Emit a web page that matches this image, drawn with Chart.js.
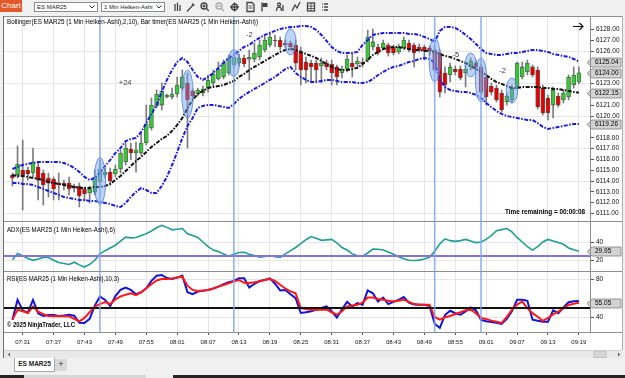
<!DOCTYPE html>
<html>
<head>
<meta charset="utf-8">
<title>ES MAR25 1 Min Heiken-Ashi</title>
<script src="https://cdn.jsdelivr.net/npm/chart.js@4.4.1/dist/chart.umd.min.js"></script>
<style>
  html, body { margin: 0; padding: 0; }
  body { position: relative; width: 625px; height: 378px; overflow: hidden; background: #f0f0f0; font-family: "Liberation Sans", Arial, sans-serif; }
  .a { position: absolute; }
  canvas { position: absolute; display: block; }
  #chartBtn { left: 0; top: 0; width: 22px; height: 12px; background: #e5582a; color: #fff; font-size: 8px; line-height: 12px; text-align: center; }
  .dd { top: 2px; height: 10px; box-sizing: border-box; border: 1px solid #8c8c8c; background: #fff; font-size: 6px; line-height: 8px; padding-left: 2px; color: #222; white-space: nowrap; }
  .dd svg { position: absolute; right: 2px; top: 2px; }
  .ln { background: #8e8e8e; }
</style>
</head>
<body>

<!-- toolbar -->
<div id="chartBtn" class="a">Chart</div>
<div class="a dd" style="left:34px;width:64px">ES MAR25<svg width="6" height="4"><polyline points="0.5,0.5 3,3 5.5,0.5" fill="none" stroke="#333" stroke-width="1"/></svg></div>
<div class="a dd" style="left:101px;width:64px">1 Min Heiken-Ashi<svg width="6" height="4"><polyline points="0.5,0.5 3,3 5.5,0.5" fill="none" stroke="#333" stroke-width="1"/></svg></div>
<svg class="a" style="left:0;top:0" width="340" height="15">
  <g stroke="#444" stroke-width="1.3" fill="none">
    <path d="M175 4v7M177.5 2.5v8.5M180 5v6"/>
    <path d="M187 11.5L193.5 4.5M192 3.5l2.5 2"/>
    <circle cx="204" cy="6" r="3"/><path d="M206.3 8.3l2.5 2.7M202.5 6h3M204 4.5v3"/>
    <circle cx="219" cy="6" r="3" stroke="#aaa"/><path d="M221.3 8.3l2.5 2.7M217.5 6h3" stroke="#aaa"/>
    <circle cx="234.5" cy="7" r="3"/><path d="M230 7h9M234.5 2.5v9"/>
    <path d="M247 2.5h5l2 2v7h-7z"/><path d="M248.5 6h4M248.5 8h4" stroke-width="0.8"/>
    <path d="M262 2.5v9"/><rect x="262.5" y="3" width="5" height="4" fill="#444" stroke="none"/>
    <circle cx="279" cy="4.5" r="1.5"/><path d="M276.5 11c0-3 1-4 2.5-4s2.5 1 2.5 4M283 5v6"/>
    <path d="M292 11l3-6 2 3 3-6"/>
    <rect x="307.5" y="3" width="7" height="8"/><path d="M307.5 6h7M307.5 8.5h7M311 3v8" stroke-width="0.8"/>
    <path d="M324 4h4M324 7h4M324 10h4M322 4h0.8M322 7h0.8M322 10h0.8"/>
  </g>
</svg>

<!-- chart frame -->
<div class="a" style="left:4px;top:17px;width:618px;height:333px;background:#fff"></div>
<canvas id="cPrice" width="618" height="204" style="left:4px;top:17px;width:618px;height:204px"></canvas>
<canvas id="cAdx" width="618" height="49" style="left:4px;top:222px;width:618px;height:49px"></canvas>
<canvas id="cRsi" width="618" height="78" style="left:4px;top:272px;width:618px;height:78px"></canvas>
<div class="a ln" style="left:3px;top:16px;width:620px;height:1px"></div>
<div class="a ln" style="left:3px;top:16px;width:1px;height:342px;background:#6e6e6e"></div>
<div class="a ln" style="left:622px;top:16px;width:1px;height:334px;background:#b0b0b0"></div>
<div class="a ln" style="left:4px;top:221px;width:618px;height:1px"></div>
<div class="a ln" style="left:4px;top:271px;width:618px;height:1px"></div>
<div class="a ln" style="left:4px;top:332px;width:618px;height:1px"></div>
<div class="a ln" style="left:590px;top:17px;width:1px;height:315px"></div>

<!-- scrollbar -->
<div class="a" style="left:4px;top:350px;width:618px;height:7px;background:#e8e8e8;border-top:1px solid #d0d0d0"></div>
<svg class="a" style="left:4px;top:351px" width="618" height="7">
  <path d="M4 3.5l2-2v4z" fill="#555"/>
  <rect x="590" y="0.5" width="12" height="6" fill="#d6d6d6" stroke="#c4c4c4"/>
  <path d="M614 1.5l2 2-2 2z" fill="#555"/>
</svg>

<!-- tabs -->
<div class="a" style="left:14px;top:358px;width:39px;height:13px;background:#fff;border:1px solid #a8a8a8;border-top:none;font-size:6.5px;font-weight:bold;line-height:12px;text-align:center;color:#222">ES MAR25</div>
<div class="a" style="left:55px;top:359px;width:12px;height:12px;background:#d9d9d9;font-size:9px;line-height:11px;text-align:center;color:#333">+</div>

<!-- taskbar peek -->
<div class="a" style="left:0;top:375px;width:625px;height:3px;background:#2b2323"></div>
<div class="a" style="left:24px;top:375px;width:122px;height:3px;background:#d6d6d6"></div>
<div class="a" style="left:146px;top:375px;width:27px;height:3px;background:#efefef"></div>

<script>
// ---- data -------------------------------------------------------------
const firstBarTime = '07:29';
const tickLabels = ['07:31', '07:37', '07:43', '07:49', '07:55', '08:01', '08:07', '08:13', '08:19', '08:25',
  '08:31', '08:37', '08:43', '08:49', '08:55', '09:01', '09:07', '09:13', '09:19'];
const priceTicks = [6111, 6112, 6113, 6114, 6115, 6116, 6117, 6118, 6119, 6120, 6121, 6122, 6123, 6124, 6125, 6126, 6127, 6128];
const adxTicks = [20, 40];
const rsiTicks = [40, 80];

const haOpen = [
  6114.56, 6114.56, 6115.02, 6115.02, 6114.74, 6115.30, 6114.74, 6114.28, 6114.19, 6113.81,
  6113.81, 6113.81, 6113.54, 6113.54, 6113.26, 6112.89, 6112.98, 6113.91, 6114.56, 6114.83,
  6114.65, 6115.11, 6115.76, 6116.96, 6116.59, 6116.59, 6117.51, 6118.90, 6120.93, 6121.02,
  6121.76, 6121.76, 6122.04, 6122.59, 6123.06, 6122.32, 6122.04, 6122.13, 6122.59, 6123.06,
  6123.43, 6123.61, 6123.98, 6124.72, 6124.90, 6125.37, 6125.27, 6125.27, 6125.46, 6126.11,
  6126.57, 6127.03, 6127.03, 6126.75, 6126.75, 6126.57, 6125.92, 6125.00, 6124.90, 6124.90,
  6124.63, 6124.90, 6124.81, 6124.54, 6123.98, 6124.35, 6124.90, 6124.81, 6125.00, 6125.18,
  6126.38, 6126.38, 6126.29, 6126.57, 6126.38, 6125.92, 6126.29, 6126.75, 6126.57, 6126.38,
  6126.38, 6126.29, 6126.11, 6125.83, 6123.98, 6123.80, 6124.35, 6124.35, 6123.98, 6124.54,
  6124.90, 6124.54, 6123.61, 6122.78, 6122.59, 6122.13, 6121.30, 6121.49, 6122.69, 6123.61,
  6124.07, 6124.54, 6124.26, 6122.59, 6121.67, 6121.02, 6121.86, 6121.49, 6121.76, 6122.87, 6123.15];
const haHigh = [
  6114.74, 6117.24, 6117.79, 6115.30, 6117.05, 6115.66, 6115.02, 6114.74, 6114.37, 6114.74,
  6114.09, 6114.37, 6113.72, 6113.81, 6113.45, 6113.54, 6115.02, 6115.94, 6115.20, 6115.20,
  6115.48, 6116.87, 6117.51, 6117.51, 6117.60, 6118.44, 6121.02, 6121.67, 6122.41, 6123.06,
  6122.04, 6122.59, 6123.61, 6124.26, 6123.98, 6122.50, 6122.59, 6122.78, 6123.80, 6124.26,
  6125.00, 6125.18, 6125.64, 6125.92, 6125.74, 6125.64, 6126.11, 6126.75, 6127.03, 6127.40,
  6127.68, 6127.49, 6127.31, 6127.03, 6126.94, 6127.03, 6126.38, 6125.46, 6125.18, 6125.18,
  6125.37, 6125.18, 6125.18, 6124.72, 6124.63, 6125.64, 6125.83, 6125.46, 6125.37, 6127.95,
  6128.05, 6126.66, 6127.03, 6126.75, 6126.57, 6126.66, 6127.31, 6127.03, 6126.75, 6126.66,
  6126.57, 6126.48, 6126.38, 6126.11, 6124.54, 6124.90, 6124.63, 6124.63, 6124.63, 6125.37,
  6125.18, 6124.81, 6123.89, 6123.06, 6122.87, 6122.41, 6122.13, 6122.87, 6125.00, 6125.00,
  6125.18, 6124.72, 6124.54, 6122.87, 6121.95, 6122.69, 6122.13, 6122.41, 6123.80, 6124.54, 6124.54];
const haLow = [
  6113.54, 6114.28, 6111.32, 6114.09, 6114.37, 6112.25, 6111.78, 6112.52, 6112.25, 6112.25,
  6113.17, 6112.71, 6112.98, 6111.60, 6112.15, 6111.97, 6112.71, 6113.63, 6114.28, 6113.63,
  6114.37, 6114.74, 6115.48, 6115.94, 6114.83, 6116.40, 6117.33, 6118.71, 6120.75, 6120.56,
  6121.67, 6121.58, 6121.76, 6122.41, 6117.05, 6121.58, 6121.86, 6121.86, 6122.22, 6122.78,
  6123.33, 6123.43, 6123.80, 6124.44, 6124.63, 6124.54, 6123.33, 6125.00, 6125.18, 6125.92,
  6126.38, 6126.38, 6126.11, 6126.29, 6126.11, 6124.26, 6122.87, 6123.06, 6123.15, 6123.15,
  6123.06, 6124.26, 6122.87, 6122.87, 6123.52, 6124.07, 6123.61, 6124.54, 6124.54, 6125.00,
  6126.11, 6125.64, 6126.11, 6125.55, 6125.64, 6125.74, 6126.11, 6125.92, 6124.54, 6125.92,
  6125.18, 6125.64, 6124.07, 6121.76, 6122.13, 6123.15, 6123.80, 6123.33, 6122.69, 6124.26,
  6124.26, 6121.95, 6121.02, 6121.95, 6121.30, 6120.38, 6121.02, 6121.21, 6122.41, 6123.43,
  6123.80, 6123.61, 6120.65, 6120.10, 6119.64, 6119.83, 6120.84, 6121.21, 6121.49, 6122.59, 6122.97];
const haClose = [
  6114.28, 6115.57, 6114.56, 6114.65, 6115.76, 6114.09, 6113.63, 6113.81, 6113.26, 6113.63,
  6113.63, 6113.26, 6113.35, 6112.62, 6112.80, 6113.26, 6114.37, 6115.11, 6114.83, 6114.00,
  6115.11, 6116.59, 6117.05, 6116.59, 6116.87, 6117.51, 6119.27, 6121.02, 6122.04, 6122.32,
  6121.95, 6122.04, 6122.87, 6123.61, 6121.49, 6121.86, 6122.41, 6122.50, 6123.33, 6123.89,
  6124.35, 6124.90, 6125.37, 6125.46, 6125.37, 6124.81, 6125.46, 6125.83, 6126.57, 6127.03,
  6127.31, 6126.94, 6126.38, 6126.57, 6126.38, 6124.90, 6124.26, 6124.26, 6124.54, 6124.26,
  6124.90, 6124.54, 6123.98, 6123.61, 6124.35, 6125.27, 6124.54, 6125.09, 6124.81, 6127.31,
  6126.85, 6125.83, 6126.75, 6125.83, 6125.83, 6126.38, 6127.03, 6126.11, 6125.83, 6126.11,
  6126.02, 6126.02, 6124.26, 6122.22, 6122.87, 6124.54, 6124.07, 6123.52, 6124.35, 6125.09,
  6124.54, 6122.22, 6121.76, 6122.22, 6121.49, 6120.56, 6121.86, 6122.59, 6124.90, 6124.54,
  6124.90, 6123.80, 6120.84, 6120.29, 6120.29, 6122.41, 6121.02, 6122.13, 6123.61, 6123.80, 6124.00];

const bbUpper = [
  6115.11, 6115.30, 6115.48, 6115.58, 6115.67, 6115.76, 6115.76, 6115.76, 6115.76, 6115.76,
  6115.67, 6115.48, 6115.21, 6114.84, 6114.38, 6114.10, 6114.28, 6114.74, 6115.39, 6115.95,
  6116.59, 6117.05, 6117.70, 6117.89, 6117.98, 6118.53, 6119.36, 6120.20, 6121.03, 6122.23,
  6123.34, 6124.26, 6125.00, 6125.37, 6125.00, 6124.26, 6123.62, 6123.34, 6123.62, 6123.98,
  6124.45, 6124.91, 6125.37, 6125.65, 6126.02, 6126.39, 6126.57, 6126.94, 6127.22, 6127.50,
  6127.68, 6127.87, 6128.05, 6128.14, 6128.24, 6128.24, 6128.33, 6128.33, 6128.24, 6127.96,
  6127.50, 6126.94, 6126.39, 6126.02, 6125.83, 6125.83, 6125.83, 6125.93, 6126.57, 6127.03,
  6127.50, 6127.59, 6127.68, 6127.68, 6127.68, 6127.68, 6127.68, 6127.59, 6127.59, 6127.50,
  6127.31, 6127.13, 6126.85, 6127.87, 6128.24, 6128.24, 6128.14, 6127.87, 6127.50, 6127.13,
  6126.66, 6126.20, 6125.83, 6125.74, 6125.65, 6125.65, 6125.74, 6125.83, 6125.83, 6125.93,
  6126.02, 6126.11, 6126.11, 6126.02, 6125.93, 6125.74, 6125.65, 6125.56, 6125.46, 6125.28, 6125.04];
const bbMiddle = [
  6114.56, 6114.47, 6114.47, 6114.38, 6114.28, 6114.19, 6114.10, 6113.91, 6113.82, 6113.73,
  6113.64, 6113.54, 6113.45, 6113.36, 6113.36, 6113.36, 6113.45, 6113.45, 6113.54, 6113.73,
  6114.10, 6114.47, 6114.93, 6115.39, 6115.85, 6116.22, 6116.69, 6117.15, 6117.52, 6117.89,
  6118.16, 6118.63, 6119.18, 6119.83, 6120.75, 6121.49, 6122.04, 6122.32, 6122.60, 6122.69,
  6122.78, 6122.88, 6123.06, 6123.25, 6123.62, 6123.89, 6124.26, 6124.54, 6124.82, 6125.09,
  6125.37, 6125.65, 6125.93, 6126.11, 6126.20, 6126.11, 6125.93, 6125.74, 6125.56, 6125.37,
  6125.09, 6124.82, 6124.54, 6124.35, 6124.26, 6124.26, 6124.35, 6124.45, 6124.82, 6125.19,
  6125.65, 6125.93, 6126.20, 6126.29, 6126.39, 6126.39, 6126.29, 6126.20, 6126.11, 6126.11,
  6126.02, 6126.02, 6125.93, 6125.74, 6125.56, 6125.46, 6125.28, 6125.09, 6124.91, 6124.63,
  6124.35, 6124.08, 6123.80, 6123.43, 6123.15, 6122.97, 6122.78, 6122.60, 6122.60, 6122.69,
  6122.69, 6122.69, 6122.69, 6122.60, 6122.60, 6122.51, 6122.51, 6122.41, 6122.32, 6122.23, 6122.15];
const bbLower = [
  6113.82, 6113.82, 6113.73, 6113.73, 6113.64, 6113.45, 6113.27, 6113.08, 6112.90, 6112.71,
  6112.53, 6112.43, 6112.34, 6112.25, 6112.25, 6112.16, 6112.16, 6112.07, 6111.97, 6111.88,
  6111.70, 6111.60, 6111.97, 6112.53, 6112.99, 6113.36, 6113.17, 6112.90, 6112.90, 6113.54,
  6114.38, 6115.48, 6116.69, 6117.98, 6119.09, 6119.83, 6120.75, 6120.94, 6121.03, 6121.03,
  6120.94, 6120.84, 6120.75, 6121.12, 6121.58, 6121.95, 6122.23, 6122.51, 6122.78, 6123.06,
  6123.34, 6123.62, 6123.98, 6124.35, 6124.54, 6123.98, 6123.62, 6123.34, 6123.15, 6123.15,
  6123.25, 6123.34, 6123.34, 6123.25, 6123.15, 6123.15, 6123.15, 6123.06, 6123.06, 6123.15,
  6123.43, 6123.80, 6124.08, 6124.35, 6124.54, 6124.63, 6124.82, 6125.00, 6125.09, 6125.28,
  6125.37, 6125.28, 6124.91, 6123.34, 6122.69, 6122.41, 6122.32, 6122.23, 6122.23, 6122.14,
  6121.95, 6121.67, 6121.21, 6120.84, 6120.47, 6120.20, 6120.01, 6119.92, 6119.83, 6119.73,
  6119.64, 6119.64, 6119.36, 6119.00, 6118.81, 6118.90, 6119.00, 6119.09, 6119.18, 6119.27, 6119.26];

const adxValues = [
  20.7, 27.5, 25, 22, 20, 21.5, 23.2, 23, 20, 17.5,
  16.5, 15.4, 17.9, 15, 12.6, 15.5, 20, 27, 30.5, 33.5,
  36.5, 41, 45.3, 44.5, 45, 47, 49, 52, 55.5, 58.2,
  56, 53.3, 54, 54.7, 49, 47, 45, 40, 35, 31.2,
  29.5, 27, 24.5, 26.5, 28.5, 28.8, 26.5, 25.3, 23.5, 24.2,
  25.3, 24, 23.2, 27, 30.5, 34, 38.2, 42.5, 46, 44,
  41.8, 42.3, 42.8, 39, 34, 31.2, 27, 25, 24.2, 28,
  32.3, 32, 31.2, 29, 26.5, 24, 21.8, 20, 19.8, 20.2,
  21.5, 23.2, 30, 38, 43.5, 41.5, 40.7, 41.5, 42.8, 41,
  39.3, 40, 42.8, 47, 52.3, 53.5, 54.7, 51, 45, 40,
  35, 31.2, 35, 40, 42.8, 41, 39.5, 37.5, 33.5, 31.5, 29.95];
const adxLevel = 25;

const rsiValues = [
  37, 58, 47, 44.5, 58, 44, 41, 42, 42, 41,
  41.5, 42.4, 41.4, 34, 33.7, 38, 52, 61.6, 58, 51.5,
  62, 68.5, 71, 68.5, 64, 66, 70.3, 78, 83.5, 84.2,
  81, 80, 81.5, 83.5, 66, 64, 66.8, 67.5, 68.5, 70,
  72, 74.5, 76.5, 78, 80.7, 80.7, 71, 75, 77.9, 79,
  80.7, 75, 68, 68.5, 64, 59.8, 44.2, 45, 46, 47.7,
  49.5, 51.1, 46, 39.5, 48, 56, 51.1, 54.6, 53, 68,
  65, 56.3, 60.5, 53.6, 56, 58, 61, 55, 53.2, 52.9,
  52.9, 51.5, 33, 28.5, 42, 46.6, 44, 42.4, 45.9, 50,
  47, 37, 35.5, 34.8, 34, 32.7, 38, 46, 58.1, 58.1,
  57, 37.2, 36, 35, 35, 47, 44, 50, 55.5, 56.5, 56.8];
const rsiAvg = [
  37.2, 47.7, 46, 44.2, 51, 45.5, 43, 41, 40.7, 40.7,
  40.7, 40.7, 38, 35.5, 39, 45, 51, 53.5, 55.7, 53.6,
  58.5, 61.6, 63.5, 65, 63, 66, 70.3, 74.5, 78.5, 80,
  80, 80.5, 81.5, 82.4, 73, 68.5, 67.5, 68, 68.5, 70,
  72, 73.7, 75.5, 77.5, 79, 76, 75.8, 76.5, 77.5, 79,
  80, 78, 74, 70, 67, 65, 49.4, 48.5, 47.7, 47.7,
  47.7, 47.7, 45, 42.4, 46, 51.1, 52, 52.9, 55, 60.5,
  60.5, 59, 58.1, 57, 56.3, 57, 58.1, 56, 53.6, 53.2,
  53, 52.9, 40, 37.2, 39.7, 41, 43.1, 45, 47, 47.7,
  44, 39, 38, 36.2, 35, 33.7, 40, 47.7, 53, 56.3,
  49.4, 44, 40.3, 36, 39, 42.8, 45.6, 49, 52.6, 54, 55.05];
const rsiLevel = 50;

// trade markers (bar index, centre price, half height in points)
const markerBars = [17, 34, 43, 54, 82, 89, 91, 97];
const markerPrices = [6114.00, 6122.04, 6124.91, 6126.85, 6125.19, 6124.72, 6123.34, 6122.37];
const markerSpans = [2.17, 2.22, 1.25, 1.2, 2.03, 1.1, 2.03, 1.15];
const signalBars = [17, 43, 82, 91];
const noteTexts = ['+24', '-2', '-5', '-2'];
const noteBars = [21.9, 46.0, 86.1, 95.2];
const notePrices = [6123.1, 6127.5, 6125.65, 6124.2];

// ---- helpers ----------------------------------------------------------
const FONT = '"Liberation Sans", Arial, sans-serif';
const X_MIN = -1.63, X_MAX = 112.16;
const toMin = t => { const [h, m] = t.split(':').map(Number); return h * 60 + m; };
const tickBars = tickLabels.map(t => toMin(t) - toMin(firstBarTime));
const xy = arr => arr.map((v, i) => ({ x: i, y: v }));
const last = arr => arr[arr.length - 1];

function txt(ctx, s, x, y, o = {}) {
  ctx.font = `${o.weight || 'normal'} ${o.size || 6.5}px ${FONT}`;
  ctx.fillStyle = o.color || '#000';
  ctx.textAlign = o.align || 'left';
  ctx.textBaseline = 'middle';
  if (o.maxW) ctx.fillText(s, x, y, o.maxW); else ctx.fillText(s, x, y);
}

function xAxis(showLabels) {
  return {
    type: 'linear', min: X_MIN, max: X_MAX, offset: false,
    afterBuildTicks: s => { s.ticks = tickBars.map(v => ({ value: v })); },
    afterFit: s => { s.height = showLabels ? 18 : 0; s.paddingLeft = 0; s.paddingRight = 0; },
    border: { display: false },
    grid: { color: '#e6e6e6', offset: false, drawTicks: showLabels, tickLength: 3, tickColor: '#555' },
    ticks: { display: showLabels, autoSkip: false, maxRotation: 0, padding: 4, color: '#111',
      font: { family: FONT, size: 6 }, callback: (v, i) => tickLabels[i] }
  };
}

function yAxis(min, max, ticks, fmt, gridOn) {
  return {
    type: 'linear', position: 'right', min, max,
    afterBuildTicks: s => { s.ticks = ticks.map(v => ({ value: v })); },
    afterFit: s => { s.width = 32; s.paddingTop = 0; s.paddingBottom = 0; },
    border: { display: false },
    grid: { color: c => (gridOn(c.tick.value) ? '#e6e6e6' : 'rgba(0,0,0,0)'), tickLength: 4, tickColor: '#555' },
    ticks: { padding: 2, color: '#111', font: { family: FONT, size: 6.5 }, callback: fmt }
  };
}

function decor(spec) {
  return {
    id: 'decor',
    afterDatasetsDraw(chart) {
      const { ctx, chartArea: a } = chart;
      const xs = chart.scales.x, ys = chart.scales.y;
      ctx.save();
      ctx.beginPath();
      ctx.rect(a.left, a.top, a.width, a.height);
      ctx.clip();
      if (spec.level) {
        const py = Math.round(ys.getPixelForValue(spec.level.value));
        ctx.strokeStyle = spec.level.color;
        ctx.lineWidth = 2;
        ctx.beginPath(); ctx.moveTo(a.left, py); ctx.lineTo(a.right, py); ctx.stroke();
      }
      if (spec.markers) {
        markerBars.forEach((b, k) => {
          const cx = xs.getPixelForValue(b);
          const rx = xs.getPixelForValue(b + 1.1) - cx;
          const cy = ys.getPixelForValue(markerPrices[k]);
          const ry = cy - ys.getPixelForValue(markerPrices[k] + markerSpans[k]);
          ctx.beginPath();
          ctx.ellipse(cx, cy, rx, ry, 0, 0, Math.PI * 2);
          ctx.fillStyle = 'rgba(110,160,235,0.45)';
          ctx.fill();
          ctx.strokeStyle = 'rgba(85,135,225,0.85)';
          ctx.lineWidth = 1;
          ctx.stroke();
        });
      }
      signalBars.forEach(b => {
        const px = xs.getPixelForValue(b);
        ctx.fillStyle = 'rgba(125,165,240,0.85)';
        ctx.fillRect(px - 0.8, a.top, 1.6, a.height);
      });
      if (spec.notes) {
        noteTexts.forEach((s, k) => {
          txt(ctx, s, xs.getPixelForValue(noteBars[k]), ys.getPixelForValue(notePrices[k]),
            { size: 7.5, color: '#3a3a3a', align: 'center' });
        });
      }
      ctx.restore();
      (spec.texts || []).forEach(t => {
        const x = t.right != null ? a.right - t.right : a.left + t.left;
        const y = t.bottom != null ? a.bottom - t.bottom : a.top + t.top;
        txt(ctx, t.s, x, y, t);
      });
      if (spec.arrow) {
        const y = a.top + 9.5, x0 = a.right - 17, x1 = a.right - 7;
        ctx.strokeStyle = '#111'; ctx.lineWidth = 1.2;
        ctx.beginPath();
        ctx.moveTo(x0, y); ctx.lineTo(x1, y);
        ctx.moveTo(x1 - 3.5, y - 3.5); ctx.lineTo(x1, y); ctx.lineTo(x1 - 3.5, y + 3.5);
        ctx.stroke();
      }
    },
    afterDraw(chart) {
      const { ctx, chartArea: a } = chart;
      const ys = chart.scales.y;
      (spec.tags || []).forEach(v => {
        const py = Math.round(ys.getPixelForValue(v)) + 0.5;
        const x0 = a.right - 3, x1 = a.right + 2, x2 = a.right + 31, h = 4.5;
        ctx.beginPath();
        ctx.moveTo(x0, py); ctx.lineTo(x1, py - h); ctx.lineTo(x2, py - h);
        ctx.lineTo(x2, py + h); ctx.lineTo(x1, py + h); ctx.closePath();
        ctx.fillStyle = '#d3d3d3'; ctx.fill();
        ctx.strokeStyle = '#7d7d7d'; ctx.lineWidth = 0.8; ctx.stroke();
        txt(ctx, v.toFixed(2), a.right + 5, py, { size: 6.5, color: '#000' });
      });
    }
  };
}

const baseOptions = {
  responsive: false, animation: false, devicePixelRatio: 1, events: [],
  layout: { padding: 0 },
  plugins: { legend: { display: false }, tooltip: { enabled: false } }
};

// ---- price panel ------------------------------------------------------
const bandLine = (data, color) => ({
  type: 'line', data: xy(data), borderColor: color, borderWidth: 2, borderDash: [4, 1.5, 1.5, 1.5],
  pointRadius: 0, tension: 0, order: 0
});

new Chart(document.getElementById('cPrice'), {
  type: 'bar',
  data: {
    datasets: [
      bandLine(bbUpper, '#1a1ae8'),
      bandLine(bbLower, '#1a1ae8'),
      bandLine(bbMiddle, '#111111'),
      {
        type: 'bar', order: 1, grouped: false, barThickness: 4, minBarLength: 1,
        data: haOpen.map((o, i) => ({ x: i, y: [o, haClose[i]] })),
        backgroundColor: haOpen.map((o, i) => (haClose[i] >= o ? '#35c935' : '#e60000')),
        borderColor: 'rgba(30,30,30,0.7)', borderWidth: 0.8, borderSkipped: false
      },
      {
        type: 'bar', order: 2, grouped: false, barThickness: 1,
        data: haLow.map((l, i) => ({ x: i, y: [l, haHigh[i]] })),
        backgroundColor: '#7c7c7c', borderWidth: 0
      }
    ]
  },
  options: {
    ...baseOptions,
    scales: {
      x: xAxis(false),
      y: yAxis(6110.307, 6129.155, priceTicks, v => v.toFixed(2), v => (v - 6111) % 3 === 0)
    }
  },
  plugins: [decor({
    markers: true, notes: true, arrow: true,
    texts: [
      { s: 'Bollinger(ES MAR25 (1 Min Heiken-Ashi),2,10), Bar timer(ES MAR25 (1 Min Heiken-Ashi))',
        left: 3, top: 5.5, maxW: 251, size: 6.5 },
      { s: 'Time remaining = 00:00:08', right: 5, bottom: 9, maxW: 80, size: 6.5, weight: 'bold', align: 'right' }
    ],
    tags: [last(bbUpper), last(haClose), last(bbMiddle), last(bbLower)]
  })]
});

// ---- ADX panel --------------------------------------------------------
new Chart(document.getElementById('cAdx'), {
  type: 'line',
  data: {
    datasets: [{ data: xy(adxValues), borderColor: '#1f9e94', borderWidth: 1.6, pointRadius: 0, tension: 0 }]
  },
  options: {
    ...baseOptions,
    scales: {
      x: xAxis(false),
      y: yAxis(8.31, 61.86, adxTicks, v => String(v), () => true)
    }
  },
  plugins: [decor({
    level: { value: adxLevel, color: '#8573dc' },
    texts: [{ s: 'ADX(ES MAR25 (1 Min Heiken-Ashi),6)', left: 3, top: 8, maxW: 108, size: 6.5 }],
    tags: [last(adxValues)]
  })]
});

// ---- RSI panel --------------------------------------------------------
new Chart(document.getElementById('cRsi'), {
  type: 'line',
  data: {
    datasets: [
      { data: xy(rsiAvg), borderColor: '#ff1a1a', borderWidth: 2, pointRadius: 0, tension: 0, order: 0 },
      { data: xy(rsiValues), borderColor: '#1414d8', borderWidth: 2, pointRadius: 0, tension: 0, order: 1 }
    ]
  },
  options: {
    ...baseOptions,
    scales: {
      x: xAxis(true),
      y: yAxis(24.21, 87.37, rsiTicks, v => String(v), () => true)
    }
  },
  plugins: [decor({
    level: { value: rsiLevel, color: '#111111' },
    texts: [
      { s: 'RSI(ES MAR25 (1 Min Heiken-Ashi),10,3)', left: 3, top: 7, maxW: 112, size: 6.5 },
      { s: '\u00a9 2025 NinjaTrader, LLC', left: 3, bottom: 7, maxW: 68, size: 6.5, weight: 'bold' }
    ],
    tags: [last(rsiAvg)]
  })]
});
</script>
</body>
</html>
